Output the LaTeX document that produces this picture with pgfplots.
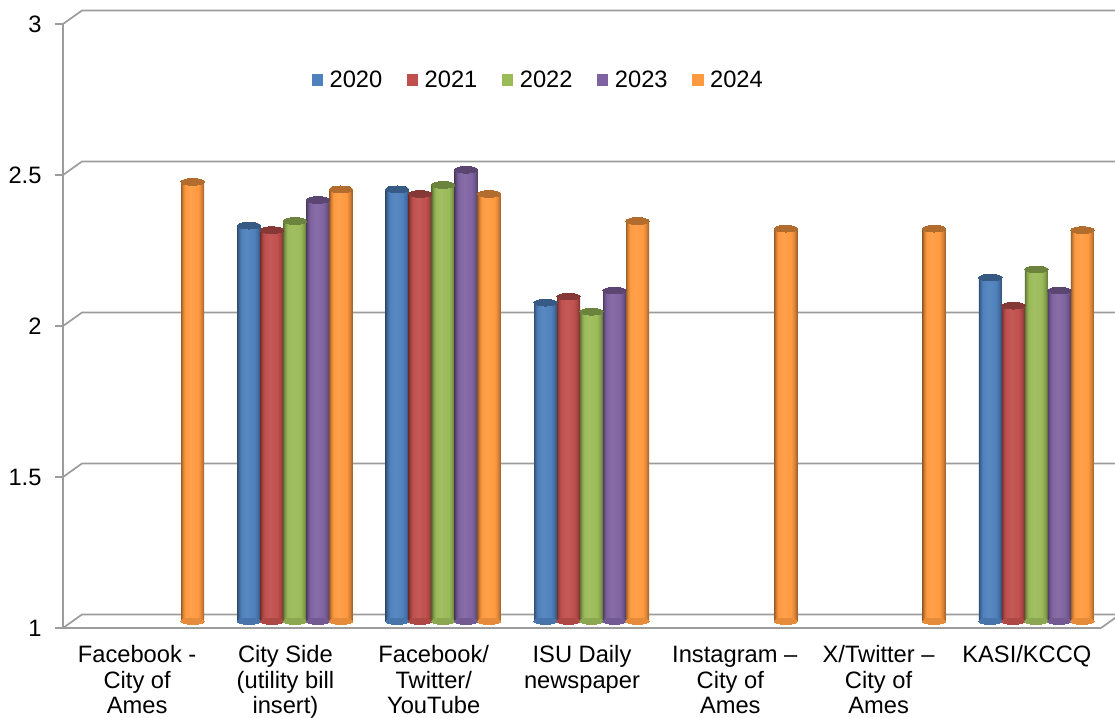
\documentclass[border=0pt]{standalone}
\usepackage{pgfplots}
\usepackage{fontspec}
\setmainfont{Liberation Sans}
\pgfplotsset{compat=1.18}
\definecolor{cB}{HTML}{4F81BD}
\definecolor{cR}{HTML}{C0504D}
\definecolor{cG}{HTML}{9BBB59}
\definecolor{cP}{HTML}{8064A2}
\definecolor{cO}{HTML}{FF9A40}
\definecolor{gridc}{HTML}{9C9C9C}
\newcommand{\mkshade}[2]{%
  \colorlet{tmpdk}{#2!62!black}\colorlet{tmpmd}{#2!85!black}\colorlet{tmplt}{#2!94!white}%
  \pgfdeclarehorizontalshading{#1}{100bp}{color(0bp)=(tmpdk); color(25bp)=(tmpdk); color(29bp)=(tmpmd); color(34bp)=(#2); color(45bp)=(tmplt); color(62bp)=(#2); color(69bp)=(tmpmd); color(75bp)=(tmpdk); color(100bp)=(tmpdk)}}
\mkshade{sB}{cB}\mkshade{sR}{cR}\mkshade{sG}{cG}\mkshade{sP}{cP}\mkshade{sO}{cO}
\pgfplotsset{
  depth/.style={xshift=9.5pt,yshift=6.75pt},
  gridl/.style={gridc,line width=1.7pt,forget plot,line join=round},
  ell/.style={only marks,mark=*,mark size=11.7pt,forget plot},
}
% #1 category, #2 value, #3 shift, #4 shading, #5 colour
\newcommand{\onebar}[5]{%
  \addplot[ell,depth,xshift=#3,mark options={yscale=.27,fill=#5!90!black,draw=#5!90!black,line width=0pt}] coordinates {(#1,1)};
  \addplot[ybar,bar width=23pt,bar shift=#3+9.5pt,yshift=6.75pt,shade,shading=#4,draw=none,forget plot] coordinates {(#1,#2)};
  \addplot[ell,depth,xshift=#3,mark options={yscale=.29,fill=#5!70!black,draw=#5!70!black,line width=0pt}] coordinates {(#1,#2)};
}
\newcommand{\legitem}[2]{%
  \addlegendimage{legend image code/.code={\path[draw=none,fill=none] (0pt,-12pt) rectangle (15pt,12pt);\fill[#1,draw=none] (0pt,-5.75pt) rectangle (11.5pt,5.75pt);}}
  \addlegendentry{#2}}
\begin{document}
\begin{tikzpicture}[font=\fontsize{23.7}{25.6}\selectfont]
\begin{axis}[
  name=a,
  scale only axis,width=1038pt,height=604pt,
  xmin=-0.5,xmax=6.5,ymin=1,ymax=3,
  clip=false,
  axis x line=bottom,axis y line=left,
  axis line style={-,gridc,line width=1.7pt},
  tick style={gridc,line width=1.7pt},
  tick align=outside,
  major tick length=8pt,minor tick length=7pt,
  ytick={1,1.5,2,2.5,3},
  xtick={0,1,2,3,4,5,6},
  minor xtick={-0.5,0.5,1.5,2.5,3.5,4.5,5.5,6.5},
  xtick style={draw=none},
  xticklabels={{\strut Facebook -\\City of\\Ames},{\strut City Side\\(utility bill\\insert)},{\strut Facebook/\\Twitter/\\YouTube},{\strut ISU Daily\\newspaper},{\strut\hspace*{9pt}Instagram –\\City of\\Ames},{\strut X/Twitter –\\City of\\Ames},{\strut KASI/KCCQ}},
  xticklabel style={align=center,font=\fontsize{23.7}{25.6}\selectfont,black,anchor=north,yshift=-5pt},
  yticklabel style={font=\fontsize{23.7}{25.6}\selectfont,black,xshift=-10pt},
  /pgf/number format/assume math mode=true,
  legend columns=5,
  legend cell align=left,
  legend style={at={(axis cs:1.175,2.815)},anchor=west,draw=none,fill=none,font=\fontsize{23.7}{25.6}\selectfont,inner sep=0pt,
    /tikz/every even column/.append style={column sep=21.4pt},
    nodes={inner sep=3pt}},
]
% back wall and floor lines
\addplot[gridl] coordinates {(-0.5,1) (-0.372,1.0447) (7,1.0447)};
\addplot[gridl] coordinates {(-0.5,1.5) (-0.372,1.5447) (7,1.5447)};
\addplot[gridl] coordinates {(-0.5,2) (-0.372,2.0447) (7,2.0447)};
\addplot[gridl] coordinates {(-0.5,2.5) (-0.372,2.5447) (7,2.5447)};
\addplot[gridl] coordinates {(-0.5,3) (-0.372,3.0447) (7,3.0447)};
\addplot[gridl] coordinates {(6.5,1) (6.6,1.035)};
\legitem{cB}{2020}\legitem{cR}{2021}\legitem{cG}{2022}\legitem{cP}{2023}\legitem{cO}{2024}
% 2020
\onebar{1}{2.31}{-46pt}{sB}{cB}
\onebar{2}{2.43}{-46pt}{sB}{cB}
\onebar{3}{2.055}{-46pt}{sB}{cB}
\onebar{6}{2.138}{-46pt}{sB}{cB}
% 2021
\onebar{1}{2.295}{-23pt}{sR}{cR}
\onebar{2}{2.415}{-23pt}{sR}{cR}
\onebar{3}{2.075}{-23pt}{sR}{cR}
\onebar{6}{2.045}{-23pt}{sR}{cR}
% 2022
\onebar{1}{2.325}{0pt}{sG}{cG}
\onebar{2}{2.445}{0pt}{sG}{cG}
\onebar{3}{2.025}{0pt}{sG}{cG}
\onebar{6}{2.165}{0pt}{sG}{cG}
% 2023
\onebar{1}{2.395}{23pt}{sP}{cP}
\onebar{2}{2.495}{23pt}{sP}{cP}
\onebar{3}{2.095}{23pt}{sP}{cP}
\onebar{6}{2.095}{23pt}{sP}{cP}
% 2024
\onebar{0}{2.455}{46pt}{sO}{cO}
\onebar{1}{2.43}{46pt}{sO}{cO}
\onebar{2}{2.415}{46pt}{sO}{cO}
\onebar{3}{2.325}{46pt}{sO}{cO}
\onebar{4}{2.30}{46pt}{sO}{cO}
\onebar{5}{2.30}{46pt}{sO}{cO}
\onebar{6}{2.295}{46pt}{sO}{cO}
\end{axis}
\pgfresetboundingbox
\path[use as bounding box] ([shift={(-63pt,-89pt)}]a.south west) rectangle ([shift={(14pt,24pt)}]a.north east);
\end{tikzpicture}
\end{document}
